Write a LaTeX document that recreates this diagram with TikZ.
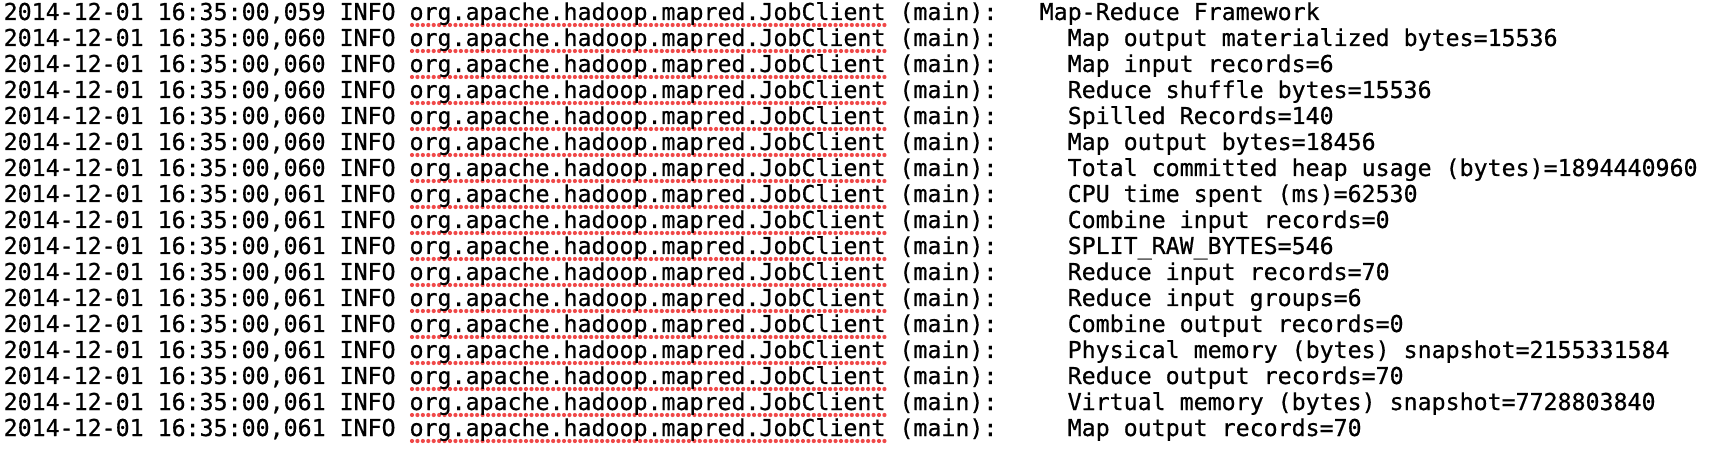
\documentclass[tikz,border=0pt]{standalone}
\usepackage{fontspec}
\newfontfamily\logfont[FakeBold=0.6]{DejaVu Sans Mono}
\definecolor{spellred}{RGB}{240,72,72}

\begin{document}
\begin{tikzpicture}[x=1pt,y=-1pt,
  logline/.style={anchor=base west,inner sep=0pt,font=\logfont\fontsize{23.25}{26}\selectfont},
  spelldot/.style={fill=spellred}]
  % page of the terminal: 1730 x 454, one char cell = 14pt, one line = 26pt
  \fill[white] (0,0) rectangle (1730,454);
  \useasboundingbox (0,0) rectangle (1730,454);

  \foreach \ms/\col/\msg [count=\i from 0] in {
      059/74/Map-Reduce Framework,
      060/76/Map output materialized bytes=15536,
      060/76/Map input records=6,
      060/76/Reduce shuffle bytes=15536,
      060/76/Spilled Records=140,
      060/76/Map output bytes=18456,
      060/76/Total committed heap usage (bytes)=1894440960,
      061/76/CPU time spent (ms)=62530,
      061/76/Combine input records=0,
      061/76/SPLIT\_RAW\_BYTES=546,
      061/76/Reduce input records=70,
      061/76/Reduce input groups=6,
      061/76/Combine output records=0,
      061/76/Physical memory (bytes) snapshot=2155331584,
      061/76/Reduce output records=70,
      061/76/Virtual memory (bytes) snapshot=7728803840,
      061/76/Map output records=70}
  {
    \pgfmathsetmacro\yb{20+\i*26}
    % spell-check underline of the class name
    \foreach \k in {0,...,87}
      \fill[spelldot] (412+\k*5.43,\yb+5) circle (2.1);
    \node[logline] (pre\i) at (3.5,\yb) {2014-12-01 16:35:00,\ms{} INFO org.apache.hadoop.mapred.JobClient (main):};
    \node[logline] (msg\i) at (3.5+\col*14,\yb) {\msg};
  }
\end{tikzpicture}
\end{document}
